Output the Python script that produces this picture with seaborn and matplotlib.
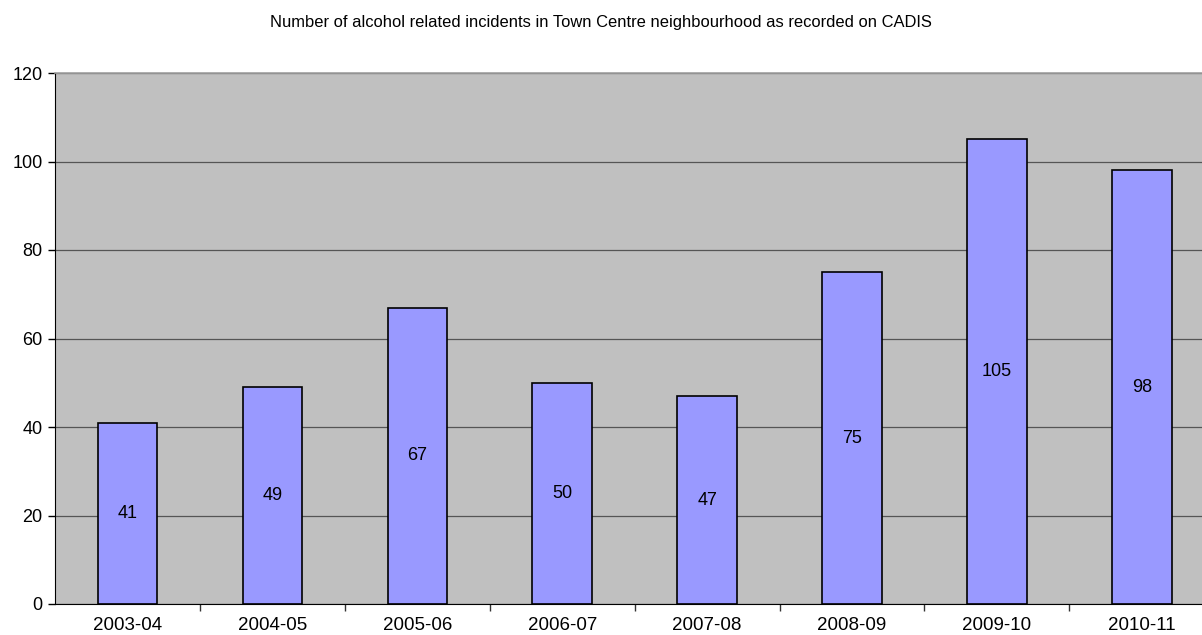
import numpy as np
import pandas as pd
import matplotlib
matplotlib.use("Agg")
import matplotlib.pyplot as plt
import seaborn as sns

years = ["2003-04", "2004-05", "2005-06", "2006-07", "2007-08", "2008-09", "2009-10", "2010-11"]
incidents = [41, 49, 67, 50, 47, 75, 105, 98]
y_ticks = [0, 20, 40, 60, 80, 100, 120]

sns.set_style("white")
plt.rcParams['font.family'] = ['Liberation Sans', 'DejaVu Sans']
plt.rcParams['text.color'] = 'black'
plt.rcParams['xtick.color'] = 'black'
plt.rcParams['ytick.color'] = 'black'

df = pd.DataFrame({"year": years, "count": incidents})

fig = plt.figure(figsize=(12.02, 6.35), dpi=100)
ax = fig.add_axes([55 / 1202, 1 - 604 / 635, 1 - 55 / 1202, (604 - 73) / 635])
ax.set_facecolor("#c0c0c0")

sns.barplot(data=df, x="year", y="count", color="#9999ff", width=0.41,
            edgecolor="black", linewidth=1.2, saturation=1, ax=ax, zorder=3)

# value labels in the middle of each bar
for i, v in enumerate(incidents):
    ax.text(i, v / 2, str(v), ha="center", va="center", fontsize=13, color="black", zorder=4)

ax.set_yticks(y_ticks)
ax.yaxis.grid(True, color="#555555", linewidth=0.9, zorder=1)
ax.set_axisbelow(True)
ax.set_xlabel("")
ax.set_ylabel("")
ax.set_xticks(np.arange(len(years)))
ax.set_xticklabels(years)
ax.set_xticks(np.arange(len(years)) + 0.5, minor=True)
ax.tick_params(axis="x", which="major", bottom=False, length=0, labelsize=13.5, pad=9)
ax.tick_params(axis="x", which="minor", bottom=True, length=5, width=1, color="#333333")
ax.tick_params(axis="y", left=True, length=5, width=1, labelsize=13, pad=4)
ax.set_ylim(0, 120)
ax.set_xlim(-0.5, 7.415)

ax.spines["top"].set_color("#a0a0a0")
ax.spines["top"].set_linewidth(1.2)
ax.spines["right"].set_visible(False)
ax.spines["left"].set_color("black")
ax.spines["bottom"].set_color("black")

fig.text(0.5, 1 - 23 / 635, "Number of alcohol related incidents in Town Centre neighbourhood as recorded on CADIS",
         ha="center", va="center", fontsize=11.9, color="black")

fig.savefig("out.png", dpi=100)
